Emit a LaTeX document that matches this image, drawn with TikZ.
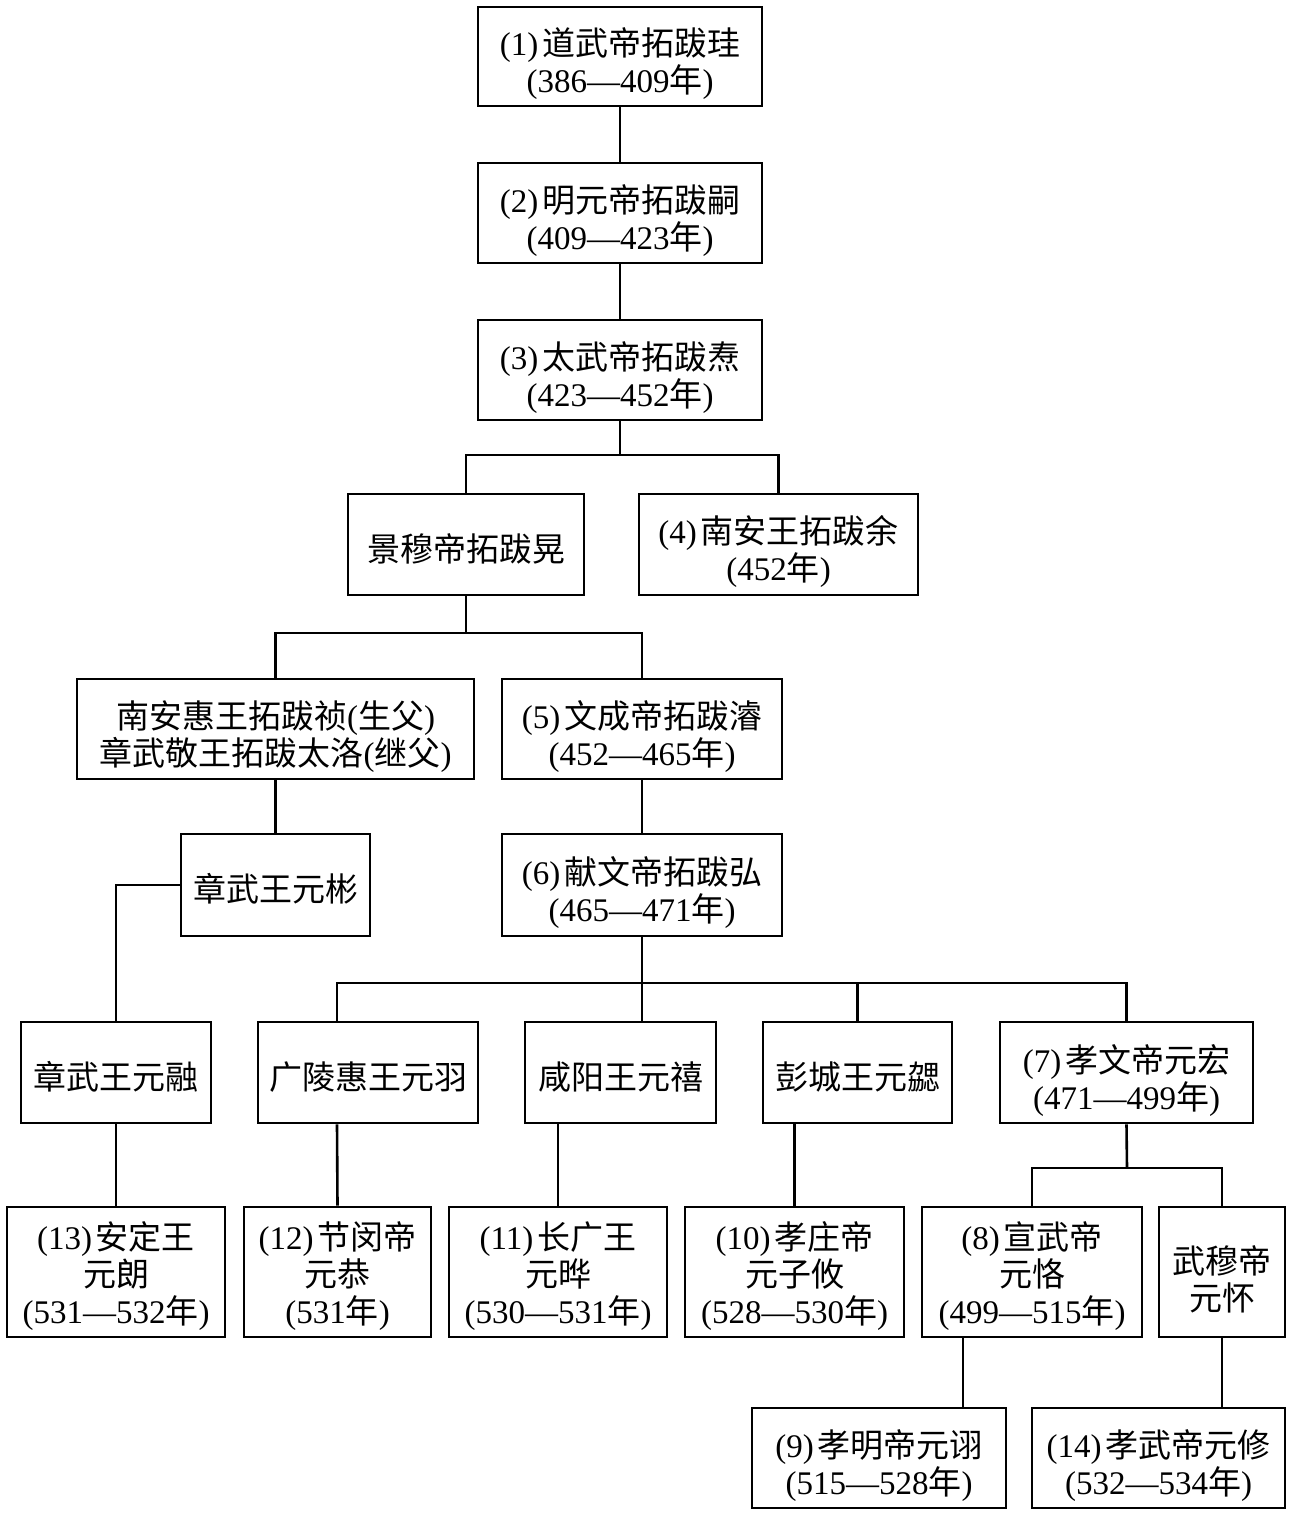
\documentclass[tikz,border=0pt]{standalone}
\usepackage{fontspec}
\setmainfont{Noto Sans CJK SC}
\newfontfamily\lat{Liberation Serif}
\newcommand{\no}[1]{{\lat(#1)}\hspace{0.12em}}
\newcommand{\yr}[1]{{\lat(#1}年{\lat)}}
\newcommand{\dn}{\rule{0pt}{43pt}}
\newcommand{\dns}{\rule{0pt}{36pt}}
\begin{document}
\begin{tikzpicture}[x=1pt,y=-1pt,
  box/.style={draw,line width=2.8pt,inner sep=0pt,align=center,
    font=\fontsize{33}{37}\selectfont},
  conn/.style={line width=2.6pt}]
\useasboundingbox (0,0) rectangle (1291,1515);
% row 1-3
\node[box,minimum width=284,minimum height=99] (b1) at (620,56.5) {\dn\no{1}道武帝拓跋珪\\\yr{386—409}};
\node[box,minimum width=284,minimum height=100] (b2) at (620,213) {\dn\no{2}明元帝拓跋嗣\\\yr{409—423}};
\node[box,minimum width=284,minimum height=100] (b3) at (620,370) {\dn\no{3}太武帝拓跋焘\\\yr{423—452}};
% row 4
\node[box,minimum width=236,minimum height=101] (jm) at (466,544.5) {\dns 景穆帝拓跋晃};
\node[box,minimum width=279,minimum height=101] (b4) at (778.5,544.5) {\dn\no{4}南安王拓跋余\\\yr{452}};
% row 5
\node[box,minimum width=397,minimum height=100] (nh) at (275.5,729) {\dn 南安惠王拓跋祯{\lat(}生父{\lat)}\\章武敬王拓跋太洛{\lat(}继父{\lat)}};
\node[box,minimum width=280,minimum height=100] (b5) at (642,729) {\dn\no{5}文成帝拓跋濬\\\yr{452—465}};
% row 6
\node[box,minimum width=189,minimum height=102] (zb) at (275.5,885) {\dns 章武王元彬};
\node[box,minimum width=280,minimum height=102] (b6) at (642,885) {\dn\no{6}献文帝拓跋弘\\\yr{465—471}};
% row 7
\node[box,minimum width=190,minimum height=101] (zr) at (116,1072.5) {\dns 章武王元融};
\node[box,minimum width=220,minimum height=101] (gl) at (368,1072.5) {\dns 广陵惠王元羽};
\node[box,minimum width=191,minimum height=101] (xy) at (620.5,1072.5) {\dns 咸阳王元禧};
\node[box,minimum width=189,minimum height=101] (pc) at (857.5,1072.5) {\dns 彭城王元勰};
\node[box,minimum width=253,minimum height=101] (b7) at (1126.5,1072.5) {\dn\no{7}孝文帝元宏\\\yr{471—499}};
% row 8
\node[box,minimum width=218,minimum height=130] (b13) at (116,1272) {\dns\no{13}安定王\\元朗\\\yr{531—532}};
\node[box,minimum width=187,minimum height=130] (b12) at (337.5,1272) {\dns\no{12}节闵帝\\元恭\\\yr{531}};
\node[box,minimum width=218,minimum height=130] (b11) at (558,1272) {\dns\no{11}长广王\\元晔\\\yr{530—531}};
\node[box,minimum width=219,minimum height=130] (b10) at (794.5,1272) {\dns\no{10}孝庄帝\\元子攸\\\yr{528—530}};
\node[box,minimum width=220,minimum height=130] (b8) at (1032,1272) {\dns\no{8}宣武帝\\元恪\\\yr{499—515}};
\node[box,minimum width=126,minimum height=130] (wm) at (1222,1272) {\dn 武穆帝\\元怀};
% row 9
\node[box,minimum width=254,minimum height=100] (b9) at (879,1458) {\dn\no{9}孝明帝元诩\\\yr{515—528}};
\node[box,minimum width=253,minimum height=100] (b14) at (1158.5,1458) {\dn\no{14}孝武帝元修\\\yr{532—534}};
% bus points
\coordinate (bus1) at (620,455);
\coordinate (bus2) at (466,633);
\coordinate (bus3) at (642,983);
\coordinate (bus4) at (1127,1168);
% connectors
\draw[conn] (b1.south) -- (b2.north);
\draw[conn] (b2.south) -- (b3.north);
\draw[conn] (b3.south) -- (bus1);
\draw[conn] (jm.north) |- (bus1) -| (b4.north);
\draw[conn] (jm.south) -- (bus2);
\draw[conn] (nh.north) |- (bus2) -| (b5.north);
\draw[conn] (nh.south) -- (zb.north);
\draw[conn] (zb.west) -| (zr.north);
\draw[conn] (b5.south) -- (b6.north);
\draw[conn] (b6.south) -- (b6.south |- xy.north);
\draw[conn] ([xshift=-31pt]gl.north) |- (bus3) -| (b7.north);
\draw[conn] (pc.north) -- (pc.north |- bus3);
\draw[conn] (zr.south) -- (b13.north);
\draw[conn] ([xshift=-31pt]gl.south) -- (b12.north);
\draw[conn] (b11.north |- xy.south) -- (b11.north);
\draw[conn] (b10.north |- pc.south) -- (b10.north);
\draw[conn] (b7.south) -- (bus4);
\draw[conn] (b8.north) |- (bus4) -| (wm.north);
\draw[conn] ([xshift=-69pt]b8.south) -- ([xshift=-69pt]b8.south |- b9.north);
\draw[conn] (wm.south) -- (wm.south |- b14.north);
\end{tikzpicture}
\end{document}
